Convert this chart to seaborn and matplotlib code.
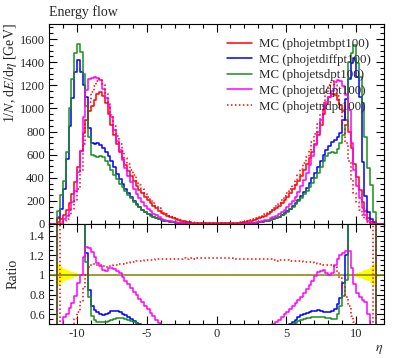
import numpy as np
import pandas as pd
import matplotlib
matplotlib.use("Agg")
import matplotlib.pyplot as plt
import seaborn as sns
from matplotlib.ticker import MultipleLocator, FuncFormatter

sns.set_style("ticks")
plt.rcParams["font.family"] = ["Liberation Serif", "DejaVu Serif"]
plt.rcParams["mathtext.fontset"] = "stix"
plt.rcParams["axes.unicode_minus"] = False

# ---------------- data (bins of 0.2 in eta, -12 .. 12) ----------------
eta_edges = np.linspace(-12, 12, 121)
eta = 0.5 * (eta_edges[:-1] + eta_edges[1:])

mbpt100 = [0, 0, 0, 20, 42, 75, 120, 180, 262, 365, 490, 635, 785, 900, 980, 1025, 1075, 1125,
           1140, 1110, 1045, 955, 860, 770, 690, 625, 565, 512, 462, 415, 370, 330, 296,
           264, 234, 205, 179, 156, 135, 116, 99, 85, 72, 60, 50, 41, 34, 27.5,
           22, 17.5, 14.2, 11.6, 9.6, 8.0, 6.9, 6.1, 5.5, 5.0, 4.7, 4.6,
           4.6, 4.7, 5.0, 5.5, 6.1, 7.0, 8.1, 9.7, 11.8, 14.6, 18.0, 22.5, 28, 34.5, 41.5,
           50.5, 61, 73, 86, 100, 117, 136, 157, 181, 207, 235, 266, 299, 334, 371,
           417, 465, 515, 567, 625, 693, 772, 860, 950, 1035, 1095, 1125, 1115, 1075, 1030,
           975, 900, 795, 655, 520, 405, 290, 190, 110, 50, 20, 8, 0, 0, 0]

diffpt100 = [0, 0, 0, 50, 130, 300, 560, 850, 1087, 1315, 1415, 1315, 1200, 1100, 833, 697, 693, 703,
             684, 660, 627, 587, 542, 489, 435, 388, 342, 302, 266, 230, 198, 170, 147,
             125, 106, 89, 74, 62, 52, 43, 35, 29, 23.8, 19.2, 15.5, 12.3, 9.9, 7.7,
             5.9, 4.6, 3.55, 2.84, 2.3, 1.88, 1.59, 1.37, 1.21, 1.08, 0.99, 0.97,
             0.97, 0.99, 1.08, 1.21, 1.37, 1.61, 1.90, 2.33, 2.89, 3.65, 4.68, 6.08, 7.84, 10.0, 12.5,
             15.7, 19.5, 24.1, 29.2, 35.5, 43.3, 52.4, 62.8, 76, 91, 110, 133, 155, 182, 211,
             246, 279, 314, 352, 394, 440, 494, 546, 594, 642, 679, 709, 725, 752, 783,
             897, 1080, 1250, 1390, 1436, 1274, 1100, 540, 240, 100, 40, 14, 0, 0, 0]

sdpt100 = [0, 0, 0, 110, 250, 370, 620, 1000, 1254, 1480, 1560, 1490, 1300, 1020, 755, 600, 585, 580,
           590, 580, 543, 511, 469, 427, 386, 350, 316, 284, 252, 222, 192, 167, 145,
           124, 105, 88, 73, 61, 51, 42, 34, 28, 23, 18.6, 15, 11.9, 9.5, 7.4,
           5.7, 4.4, 3.4, 2.73, 2.2, 1.8, 1.52, 1.31, 1.16, 1.03, 0.94, 0.92,
           0.92, 0.94, 1.03, 1.16, 1.31, 1.54, 1.82, 2.23, 2.77, 3.50, 4.5, 5.85, 7.56, 9.66, 12.0,
           15.2, 18.9, 23.4, 28.4, 34.5, 42.1, 51, 61.2, 74.2, 89, 108, 128, 150, 172, 197,
           225, 256, 288, 320, 356, 395, 444, 495, 542, 585, 613, 619, 613, 645, 700,
           770, 855, 1400, 1480, 1550, 1390, 1274, 1046, 755, 484, 337, 106, 0, 0, 0]

ddpt100 = [0, 0, 0, 0, 0, 43, 72, 119, 186, 288, 451, 635, 926, 1161, 1254, 1261, 1269, 1260,
           1243, 1166, 1087, 1022, 925, 816, 718, 638, 554, 481, 418, 361, 307, 261, 223,
           190, 160, 133, 110, 90.5, 73.6, 59.2, 47.5, 38.3, 30.2, 24, 19, 14.8, 11.6, 8.8,
           6.6, 5.1, 4.0, 3.1, 2.5, 2.0, 1.66, 1.40, 1.21, 1.05, 0.94, 0.92,
           0.92, 0.94, 1.05, 1.21, 1.40, 1.68, 2.03, 2.52, 3.19, 4.09, 5.22, 6.75, 8.96, 11.7, 14.9,
           19.2, 24.4, 30.7, 38.7, 48, 58.5, 70.7, 85.6, 103, 124, 147, 173, 203, 237, 276,
           325, 379, 440, 507, 588, 683, 795, 899, 998, 1056, 1095, 1148, 1227, 1247, 1236,
           1190, 1116, 986, 700, 470, 332, 225, 142, 80, 30, 9, 2.4, 0, 0, 0]

ndpt100 = [0, 0, 0, 60, 8.4, 22.5, 43, 76, 126, 201, 304, 457, 691, 900, 1058, 1138, 1193, 1238,
           1254, 1210, 1134, 1041, 942, 847, 762, 694, 630, 573, 520, 469, 420, 376, 337,
           302, 269, 236, 207, 180, 157, 135, 115, 98.6, 83.5, 69.8, 58.2, 47.8, 39.6, 32.1,
           25.7, 20.4, 16.6, 13.6, 11.2, 9.36, 8.07, 7.14, 6.44, 5.85, 5.5, 5.38,
           5.38, 5.5, 5.85, 6.44, 7.14, 8.19, 9.44, 11.3, 13.7, 17.0, 21.0, 26.2, 32.5, 40.0, 48.1,
           58.6, 70.8, 84.7, 99.8, 116, 135, 156, 181, 208, 238, 270, 303, 341, 381, 423,
           475, 525, 582, 641, 706, 776, 861, 955, 1050, 1139, 1205, 1238, 1204, 1107, 999,
           868, 702, 541, 380, 270, 190, 125, 76, 41, 17, 6, 24, 0, 0, 0]

# relative uncertainty of the reference (yellow band)
ref_err = ([0, 0, 0, 0.11, 0.085, 0.065, 0.05, 0.04, 0.03, 0.022, 0.015, 0.008]
           + [0.003] * 96
           + [0.008, 0.015, 0.022, 0.03, 0.04, 0.05, 0.065, 0.085, 0.11, 0, 0, 0])

labels = ["MC (phojetmbpt100)", "MC (phojetdiffpt100)", "MC (phojetsdpt100)",
          "MC (phojetddpt100)", "MC (phojetndpt100)"]
colors = ["#ff0000", "#0000ff", "#1a8f1a", "#ff00ff", "#ff0000"]
styles = ["-", "-", "-", "-", (0, (1, 1.6))]
series = [mbpt100, diffpt100, sdpt100, ddpt100, ndpt100]

# ---------------- figure ----------------
W, H = 397, 358
fig = plt.figure(figsize=(W / 100, H / 100), dpi=100)
ax1 = fig.add_axes([49 / W, 1 - 224 / H, 335 / W, 200 / H])
ax2 = fig.add_axes([49 / W, 1 - 324 / H, 335 / W, 100 / H])

bin_list = [float(b) for b in eta_edges]
ref = np.array(mbpt100, dtype=float)
for vals, lab, col, ls in zip(series, labels, colors, styles):
    df = pd.DataFrame({"eta": eta, "w": np.array(vals, dtype=float)})
    sns.histplot(data=df, x="eta", weights="w", bins=bin_list, element="step", fill=False,
                 color=col, linestyle=ls, linewidth=1.1, ax=ax1, label=lab)

# ratio panel
err = np.array(ref_err, dtype=float)
ax2.fill_between(eta_edges, np.append(1 - err, 1 - err[-1]), np.append(1 + err, 1 + err[-1]),
                 step="post", color="#ffff00", linewidth=0)
ax2.axhline(1.0, color="#808000", linewidth=1.1)
for vals, col, ls in zip(series[1:], colors[1:], styles[1:]):
    v = np.array(vals, dtype=float)
    ratio = np.divide(v, ref, out=np.zeros_like(v), where=ref > 0)
    df = pd.DataFrame({"eta": eta, "r": ratio})
    sns.histplot(data=df, x="eta", weights="r", bins=bin_list, element="step", fill=False,
                 color=col, linestyle=ls, linewidth=1.1, ax=ax2)

for ax in (ax1, ax2):
    ax.set_xlim(-12, 12)
    ax.set_xlabel("")
    ax.set_ylabel("")
    ax.xaxis.set_major_locator(MultipleLocator(5))
    ax.xaxis.set_minor_locator(MultipleLocator(1))
    ax.tick_params(which="both", direction="in", top=True, right=True, color="black",
                   width=0.8, labelsize=9, pad=3)
    ax.tick_params(which="major", length=6)
    ax.tick_params(which="minor", length=3)
    for s in ax.spines.values():
        s.set_linewidth(0.8)
        s.set_color("black")

ax1.set_ylim(0, 1730)
ax1.yaxis.set_major_locator(MultipleLocator(200))
ax1.yaxis.set_minor_locator(MultipleLocator(50))
ax1.tick_params(labelbottom=False)

ax2.set_ylim(0.5, 1.52)
ax2.yaxis.set_minor_locator(MultipleLocator(0.05))
ax2.set_yticks([0.6, 0.8, 1.0, 1.2, 1.4])
ax2.yaxis.set_major_formatter(FuncFormatter(lambda v, p: "%g" % round(v, 2)))

leg = ax1.legend(loc="upper left", bbox_to_anchor=(0.53, 0.93), frameon=False, fontsize=9.3,
                 handlelength=2.0, handletextpad=0.5, labelspacing=0.28, borderpad=0, borderaxespad=0)

fig.text(49 / W, 1 - 12 / H, "Energy flow", ha="left", va="center", fontsize=10)
fig.text(11 / W, 1 - 23 / H, r"1/$N$, d$E$/d$\eta$ [GeV]", rotation=90, ha="center", va="top", fontsize=10)
fig.text(13 / W, 1 - 274 / H, "Ratio", rotation=90, ha="center", va="center", fontsize=10)
fig.text(383 / W, 1 - 350 / H, r"$\eta$", ha="right", va="center", fontsize=10)

fig.savefig("out.png", dpi=100)
